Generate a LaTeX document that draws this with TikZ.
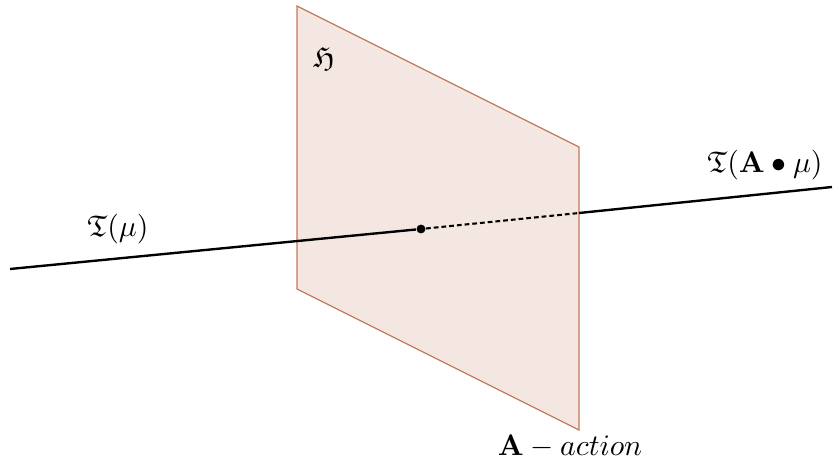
\documentclass[tikz,border=0pt]{standalone}
\usepackage{amsmath,amssymb}
\usepackage{xcolor}
\usepackage{tikz}
\definecolor{planebg}{HTML}{F4E7E2}
\definecolor{planeedge}{HTML}{C07A5C}

\begin{document}
\begin{tikzpicture}[x=0.0118cm,y=-0.0118cm,
 plane/.style={draw=planeedge,fill=planebg,line width=0.4pt},
 ray/.style={black,line width=0.8pt},
 dot/.style={circle,fill=black,inner sep=0pt,minimum size=1.05mm}]
\useasboundingbox (0,0) rectangle (834,462);
% the plane H
\coordinate (tl) at (297,6);
\coordinate (tr) at (579,147);
\coordinate (br) at (579,430);
\coordinate (bl) at (297,289);
\path[plane] (tl) -- (tr) -- (br) -- (bl) -- cycle;
% the line through it
\coordinate (lft) at (10,269);
\coordinate (rgt) at (832,187);
\node[dot] (p) at (421,229) {};
\coordinate (q) at (579,213);
\draw[ray] (lft) -- (p);
\draw[ray,line width=0.7pt,dash pattern=on 1.6pt off 1pt] (p) -- (q);
\draw[ray] (q) -- (rgt);
% labels
\node (tmu) at (118,229) {$\mathfrak{T}(\mu)$};
\node (tamu) at (765,165) {$\mathfrak{T}(\mathbf{A}\bullet\mu)$};
\node (h) at (324,58) {$\mathfrak{H}$};
\node (act) at (570,447) {$\mathbf{A}-action$};
\end{tikzpicture}
\end{document}
